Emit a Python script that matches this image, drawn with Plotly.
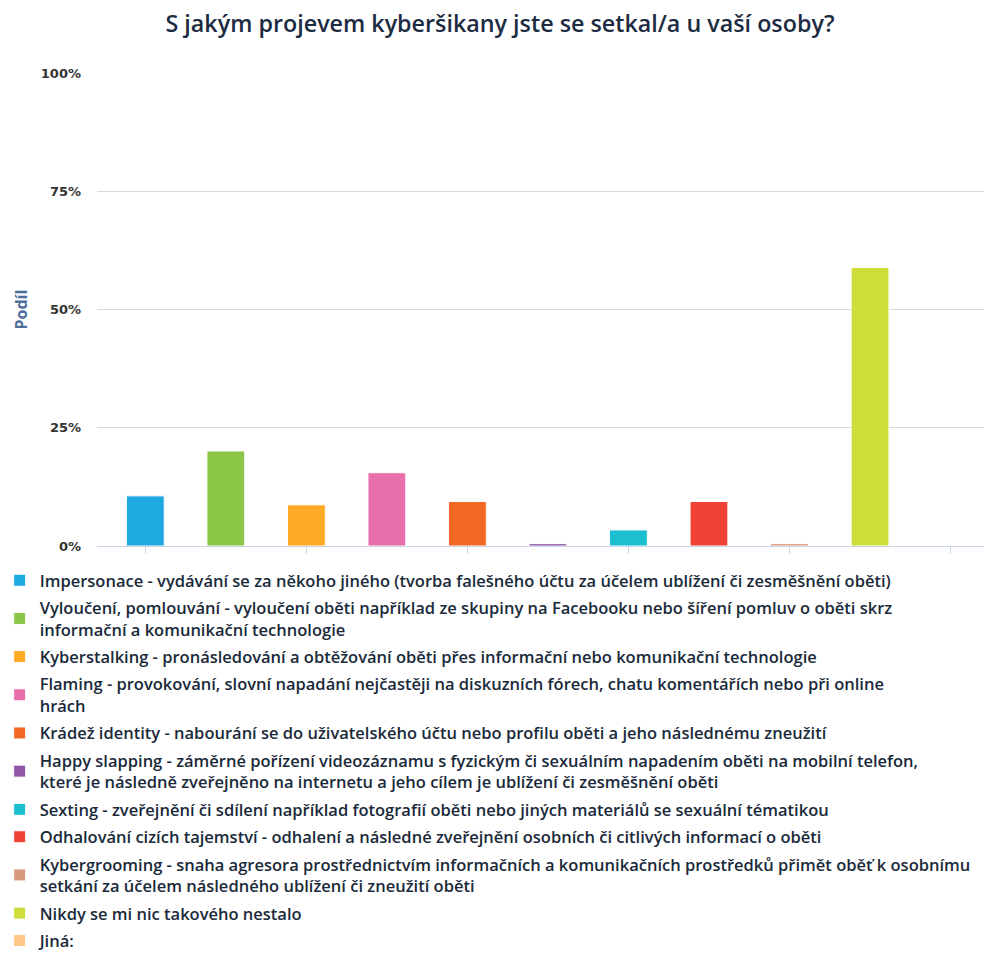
import plotly.graph_objects as go

categories = [
    "Impersonace - vydávání se za někoho jiného (tvorba falešného účtu za účelem ublížení či zesměšnění oběti)",
    "Vyloučení, pomlouvání - vyloučení oběti například ze skupiny na Facebooku nebo šíření pomluv o oběti skrz<br>informační a komunikační technologie",
    "Kyberstalking - pronásledování a obtěžování oběti přes informační nebo komunikační technologie",
    "Flaming - provokování, slovní napadání nejčastěji na diskuzních fórech, chatu komentářích nebo při online<br>hrách",
    "Krádež identity - nabourání se do uživatelského účtu nebo profilu oběti a jeho následnému zneužití",
    "Happy slapping - záměrné pořízení videozáznamu s fyzickým či sexuálním napadením oběti na mobilní telefon,<br>které je následně zveřejněno na internetu a jeho cílem je ublížení či zesměšnění oběti",
    "Sexting - zveřejnění či sdílení například fotografií oběti nebo jiných materiálů se sexuální tématikou",
    "Odhalování cizích tajemství - odhalení a následné zveřejnění osobních či citlivých informací o oběti",
    "Kybergrooming - snaha agresora prostřednictvím informačních a komunikačních prostředků přimět oběť k osobnímu<br>setkání za účelem následného ublížení či zneužití oběti",
    "Nikdy se mi nic takového nestalo",
    "Jiná:",
]
values = [10.6, 20.1, 8.7, 15.5, 9.4, 0.5, 3.4, 9.4, 0.5, 58.9, 0.0]
colors = ["#1eaae1", "#8bc646", "#fdab25", "#e86fab", "#f26724", "#8f57a6",
          "#1bbfcf", "#ef4136", "#d79a7e", "#cedd3a", "#fdc787"]
tick_values = [0, 25, 50, 75, 100]
tick_labels = ["0%", "25%", "50%", "75%", "100%"]

fig = go.Figure()
for i, (name, v, c) in enumerate(zip(categories, values, colors)):
    fig.add_trace(go.Bar(
        x=[i], y=[v], name=name, marker=dict(color=c, line=dict(color="white", width=1)),
        width=0.47, legendgroup=f"g{i}",
    ))

fig.update_layout(
    width=984, height=946,
    paper_bgcolor="white", plot_bgcolor="white",
    barmode="overlay",
    margin=dict(l=89, r=2, t=65, b=408, autoexpand=False),
    title=dict(text="S jakým projevem kyberšikany jste se setkal/a u vaší osoby?",
               x=0.5, xanchor="center", y=0.983, yanchor="middle",
               font=dict(family="Open Sans", size=23.3, color="#1c2b42", weight=600)),
    showlegend=True,
    legend=dict(orientation="v", x=-0.109, xanchor="left", y=-0.036, yanchor="top",
                font=dict(family="Open Sans", size=16.5, color="#1a2a3a", weight=600),
                tracegroupgap=3, itemclick=False, itemdoubleclick=False),
    xaxis=dict(range=[-0.6, 10.49], tickvals=[0, 2, 4, 6, 8, 10], ticktext=[""] * 6,
               showgrid=False, zeroline=False, showline=True, linecolor="#ccd6eb", linewidth=1,
               ticks="outside", ticklen=7, tickcolor="#ccd6eb"),
    yaxis=dict(range=[0, 100], tickvals=tick_values, ticktext=tick_labels,
               showgrid=True, gridcolor="#d9d9d9", gridwidth=1, zeroline=False,
               tickfont=dict(family="DejaVu Sans", size=13, color="#333333", weight="bold"),
               ticklabelstandoff=15),
    annotations=[dict(text="Podíl", textangle=-90, xref="paper", yref="paper",
                      x=-0.0862, y=0.5, showarrow=False, xanchor="center", yanchor="middle",
                      font=dict(family="Open Sans", size=16, color="#4d6f9c", weight="bold"))],
)

fig.write_html("out.html")
